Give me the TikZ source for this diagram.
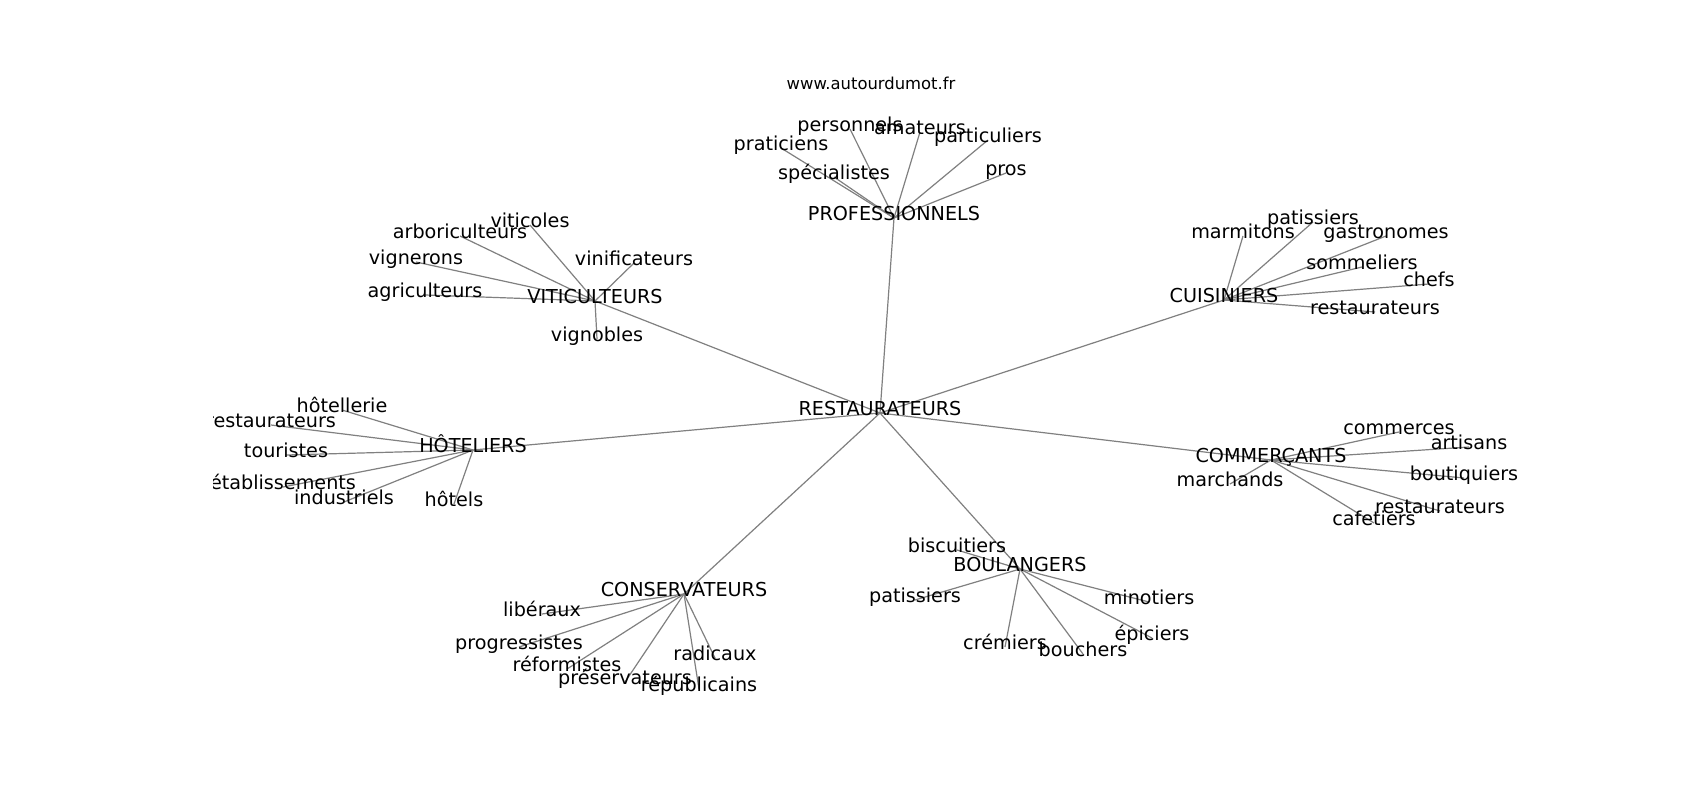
\documentclass[tikz,border=0pt]{standalone}
\usepackage{fontspec}
\setmainfont{DejaVu Sans}
\usetikzlibrary{backgrounds}
\begin{document}
\begin{tikzpicture}[x=1pt,y=-1pt,
  lbl/.style={inner sep=0pt,text height=0.76em,text depth=0.24em,font=\fontsize{19.2}{23}\selectfont,text=black},
  ttl/.style={inner sep=0pt,font=\fontsize{16.4}{19}\selectfont,text=black},
  link/.style={draw=black!50,line width=1.2pt}]
\useasboundingbox (0,0) rectangle (1700,800);
\node[ttl] (title) at (871,83) {www.autourdumot.fr};
\begin{scope}
\clip (213,96) rectangle (1530,712);
\begin{scope}[shift={(0,5)}]
% centre
\node[lbl] (r) at (880,408) {RESTAURATEURS};
% hubs
\node[lbl] (pro) at (894,213) {PROFESSIONNELS};
\node[lbl] (vit) at (595,296) {VITICULTEURS};
\node[lbl] (cui) at (1224,295) {CUISINIERS};
\node[lbl] (hot) at (473,445) {HÔTELIERS};
\node[lbl] (com) at (1271,455) {COMMERÇANTS};
\node[lbl] (con) at (684,589) {CONSERVATEURS};
\node[lbl] (bou) at (1020,564) {BOULANGERS};
% professionnels
\node[lbl] (p1) at (850,124) {personnels};
\node[lbl] (p2) at (920,127) {amateurs};
\node[lbl] (p3) at (781,143) {praticiens};
\node[lbl] (p4) at (988,135) {particuliers};
\node[lbl] (p5) at (834,172) {spécialistes};
\node[lbl] (p6) at (1006,168) {pros};
% viticulteurs
\node[lbl] (v1) at (530,220) {viticoles};
\node[lbl] (v2) at (460,231) {arboriculteurs};
\node[lbl] (v3) at (416,257) {vignerons};
\node[lbl] (v4) at (634,258) {vinificateurs};
\node[lbl] (v5) at (425,290) {agriculteurs};
\node[lbl] (v6) at (597,334) {vignobles};
% cuisiniers
\node[lbl] (c1) at (1313,217) {patissiers};
\node[lbl] (c2) at (1243,231) {marmitons};
\node[lbl] (c3) at (1386,231) {gastronomes};
\node[lbl] (c4) at (1362,262) {sommeliers};
\node[lbl] (c5) at (1429,279) {chefs};
\node[lbl] (c6) at (1375,307) {restaurateurs};
% hoteliers
\node[lbl] (h1) at (342,405) {hôtellerie};
\node[lbl] (h2) at (271,420) {restaurateurs};
\node[lbl] (h3) at (286,450) {touristes};
\node[lbl] (h4) at (283,482) {établissements};
\node[lbl] (h5) at (344,497) {industriels};
\node[lbl] (h6) at (454,499) {hôtels};
% commercants
\node[lbl] (m1) at (1399,427) {commerces};
\node[lbl] (m2) at (1469,442) {artisans};
\node[lbl] (m3) at (1230,479) {marchands};
\node[lbl] (m4) at (1464,473) {boutiquiers};
\node[lbl] (m5) at (1440,506) {restaurateurs};
\node[lbl] (m6) at (1374,518) {cafetiers};
% conservateurs
\node[lbl] (s1) at (542,609) {libéraux};
\node[lbl] (s2) at (519,642) {progressistes};
\node[lbl] (s3) at (715,653) {radicaux};
\node[lbl] (s4) at (567,664) {réformistes};
\node[lbl] (s5) at (625,677) {préservateurs};
\node[lbl] (s6) at (699,684) {républicains};
% boulangers
\node[lbl] (b1) at (957,545) {biscuitiers};
\node[lbl] (b2) at (915,595) {patissiers};
\node[lbl] (b3) at (1149,597) {minotiers};
\node[lbl] (b4) at (1152,633) {épiciers};
\node[lbl] (b5) at (1005,642) {crémiers};
\node[lbl] (b6) at (1083,649) {bouchers};
\end{scope}
\end{scope}
\begin{pgfonlayer}{background}
\fill[white] (0,0) rectangle (1700,800);
\foreach \h in {pro,vit,cui,hot,com,con,bou} \draw[link] (r.center) -- (\h.center);
\foreach \l in {p1,p2,p3,p4,p5,p6} \draw[link] (pro.center) -- (\l.center);
\foreach \l in {v1,v2,v3,v4,v5,v6} \draw[link] (vit.center) -- (\l.center);
\foreach \l in {c1,c2,c3,c4,c5,c6} \draw[link] (cui.center) -- (\l.center);
\foreach \l in {h1,h2,h3,h4,h5,h6} \draw[link] (hot.center) -- (\l.center);
\foreach \l in {m1,m2,m3,m4,m5,m6} \draw[link] (com.center) -- (\l.center);
\foreach \l in {s1,s2,s3,s4,s5,s6} \draw[link] (con.center) -- (\l.center);
\foreach \l in {b1,b2,b3,b4,b5,b6} \draw[link] (bou.center) -- (\l.center);
\end{pgfonlayer}
\end{tikzpicture}
\end{document}
